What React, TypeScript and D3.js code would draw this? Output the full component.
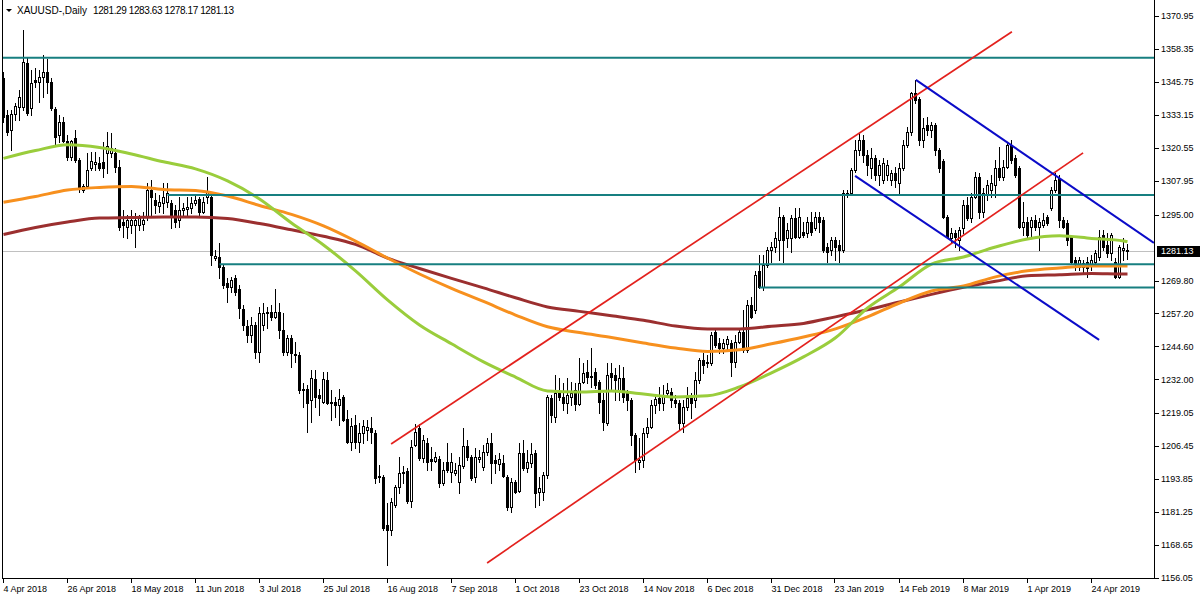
import * as d3 from "d3";

// date labels on the time axis, one every 16 bars
const dateLabels = [
  "4 Apr 2018", "26 Apr 2018", "18 May 2018", "11 Jun 2018", "3 Jul 2018", "25 Jul 2018",
  "16 Aug 2018", "7 Sep 2018", "1 Oct 2018", "23 Oct 2018", "14 Nov 2018", "6 Dec 2018",
  "31 Dec 2018", "23 Jan 2019", "14 Feb 2019", "8 Mar 2019", "1 Apr 2019", "24 Apr 2019",
];
const barsPerLabel = 16;

// price scale labels (the one at 1282.40 sits under the bid box, so it is left out)
const priceLabels = [
  1370.95, 1358.35, 1345.75, 1333.15, 1320.55, 1307.95, 1295.0, 1269.8,
  1257.2, 1244.6, 1232.0, 1219.05, 1206.45, 1193.85, 1181.25, 1168.65, 1156.05,
];

const symbol = "XAUUSD-,Daily";
const lastBar = [1281.29, 1283.63, 1278.17, 1281.13];

// daily OHLC
const opens = [
  1347.3, 1333.1, 1327.4, 1333.5, 1336.2, 1336.2, 1353.0, 1335.8, 1346.5, 1345.7,
  1347.7, 1349.6, 1345.7, 1335.4, 1325.5, 1330.4, 1323.2, 1317.1, 1324.3, 1315.9,
  1304.4, 1306.0, 1312.9, 1314.4, 1314.8, 1315.2, 1318.6, 1318.6, 1318.6, 1313.2,
  1292.2, 1290.3, 1291.1, 1291.1, 1291.1, 1291.4, 1294.1, 1304.4, 1300.6, 1298.3,
  1299.5, 1299.9, 1299.5, 1296.8, 1293.0, 1296.8, 1297.2, 1297.6, 1299.5, 1301.0,
  1296.0, 1301.8, 1301.8, 1278.4, 1278.8, 1275.0, 1268.9, 1267.4, 1270.8, 1266.6,
  1258.9, 1252.4, 1249.0, 1252.8, 1242.5, 1252.8, 1257.4, 1257.8, 1255.9, 1257.8,
  1250.9, 1242.5, 1247.9, 1241.7, 1241.4, 1228.3, 1228.3, 1224.1, 1232.2, 1226.1,
  1223.4, 1231.8, 1223.4, 1223.4, 1222.2, 1225.3, 1216.9, 1208.1, 1214.6, 1208.1,
  1211.5, 1212.7, 1213.4, 1211.5, 1195.1, 1194.7, 1176.3, 1174.4, 1184.0, 1190.9,
  1196.2, 1197.0, 1185.5, 1206.9, 1213.4, 1201.9, 1207.7, 1201.6, 1200.8, 1201.6,
  1192.4, 1200.4, 1196.6, 1196.2, 1192.8, 1198.9, 1206.5, 1202.3, 1194.7, 1201.6,
  1198.5, 1204.3, 1207.7, 1201.2, 1199.7, 1200.0, 1194.7, 1183.2, 1192.8, 1189.4,
  1203.9, 1198.1, 1200.0, 1203.9, 1189.0, 1189.0, 1195.5, 1224.9, 1217.6, 1226.8,
  1225.3, 1223.0, 1225.3, 1228.0, 1222.6, 1231.0, 1234.9, 1232.9, 1234.9, 1231.0,
  1224.1, 1215.3, 1234.5, 1233.7, 1228.0, 1232.6, 1226.8, 1224.1, 1210.7, 1200.4,
  1201.2, 1211.5, 1213.8, 1222.2, 1224.9, 1223.0, 1226.8, 1227.2, 1224.1, 1223.0,
  1215.3, 1221.5, 1224.9, 1224.1, 1231.8, 1239.4, 1238.7, 1238.3, 1250.1, 1246.0,
  1244.0, 1245.6, 1246.0, 1238.7, 1246.3, 1250.1, 1243.3, 1260.5, 1258.6, 1273.5,
  1267.4, 1275.8, 1281.5, 1282.6, 1285.3, 1294.1, 1286.1, 1286.1, 1293.7, 1286.5,
  1288.4, 1288.0, 1292.2, 1289.9, 1294.1, 1293.0, 1282.6, 1281.5, 1285.3, 1283.4,
  1281.5, 1302.5, 1303.3, 1312.1, 1319.7, 1323.6, 1317.8, 1312.9, 1316.7, 1310.2,
  1308.3, 1310.2, 1308.3, 1310.9, 1307.1, 1312.9, 1321.7, 1326.6, 1341.5, 1339.2,
  1323.6, 1329.3, 1327.4, 1329.3, 1319.7, 1315.6, 1294.1, 1286.1, 1288.0, 1285.3,
  1289.9, 1298.7, 1293.7, 1301.8, 1309.4, 1296.0, 1302.5, 1304.4, 1306.3, 1312.9,
  1309.4, 1313.2, 1321.7, 1316.7, 1312.9, 1290.3, 1292.2, 1290.3, 1293.0, 1290.3,
  1291.1, 1294.1, 1297.6, 1304.4, 1309.0, 1293.0, 1291.8, 1286.5, 1277.7, 1275.0,
  1275.0, 1276.9, 1275.8, 1276.9, 1278.8, 1287.2, 1283.4, 1280.3, 1276.9, 1271.2,
  1281.5, 1281.29,
];
const highs = [
  1349.6, 1335.0, 1335.0, 1337.7, 1342.7, 1365.6, 1354.9, 1350.3, 1351.1, 1350.3,
  1356.1, 1354.5, 1347.3, 1336.2, 1333.1, 1332.4, 1325.5, 1323.6, 1327.4, 1316.7,
  1306.7, 1318.6, 1319.0, 1319.0, 1317.1, 1322.8, 1326.6, 1326.2, 1320.5, 1315.9,
  1296.8, 1294.9, 1296.8, 1295.7, 1294.9, 1296.0, 1307.1, 1308.3, 1303.3, 1302.5,
  1307.1, 1307.1, 1300.6, 1298.7, 1301.8, 1299.5, 1301.8, 1301.8, 1302.5, 1301.8,
  1301.8, 1309.4, 1302.5, 1281.5, 1284.2, 1275.8, 1270.8, 1271.2, 1271.9, 1268.1,
  1260.5, 1254.7, 1255.9, 1254.0, 1259.7, 1261.2, 1259.7, 1260.5, 1266.6, 1261.2,
  1257.4, 1249.0, 1249.0, 1246.3, 1242.5, 1230.6, 1229.9, 1235.6, 1235.6, 1228.3,
  1234.9, 1234.9, 1228.0, 1225.3, 1228.3, 1226.1, 1220.3, 1217.3, 1218.4, 1215.3,
  1216.5, 1216.5, 1217.6, 1212.7, 1199.3, 1195.5, 1184.8, 1186.7, 1191.6, 1202.3,
  1198.9, 1198.1, 1208.8, 1214.9, 1214.9, 1210.7, 1209.6, 1206.2, 1204.3, 1202.7,
  1200.4, 1207.7, 1203.9, 1200.0, 1202.3, 1213.4, 1208.8, 1203.1, 1205.8, 1205.0,
  1206.9, 1209.6, 1211.5, 1203.1, 1203.9, 1203.1, 1195.5, 1194.3, 1193.6, 1207.7,
  1208.8, 1205.0, 1207.7, 1205.0, 1194.7, 1196.6, 1226.1, 1226.1, 1233.7, 1232.6,
  1230.6, 1232.6, 1231.0, 1230.6, 1240.2, 1238.3, 1239.4, 1244.0, 1236.4, 1231.8,
  1226.8, 1238.3, 1238.3, 1236.4, 1237.5, 1236.8, 1228.0, 1224.9, 1211.5, 1209.6,
  1213.4, 1217.3, 1224.1, 1226.1, 1229.1, 1229.9, 1230.6, 1228.7, 1226.1, 1224.1,
  1224.1, 1229.1, 1226.8, 1234.9, 1240.2, 1242.1, 1241.4, 1250.1, 1251.7, 1247.9,
  1247.5, 1248.6, 1247.1, 1249.0, 1251.7, 1258.6, 1262.4, 1263.5, 1273.5, 1279.6,
  1279.6, 1282.6, 1284.6, 1288.4, 1297.9, 1294.9, 1291.8, 1294.9, 1297.6, 1297.6,
  1292.2, 1294.1, 1296.0, 1296.0, 1296.0, 1294.1, 1284.2, 1286.5, 1286.5, 1285.3,
  1304.4, 1304.4, 1312.9, 1323.6, 1326.2, 1325.5, 1319.7, 1320.5, 1317.8, 1315.9,
  1316.7, 1315.9, 1312.1, 1313.2, 1314.8, 1323.6, 1328.5, 1341.9, 1346.5, 1340.0,
  1331.8, 1332.4, 1330.4, 1330.1, 1320.5, 1316.4, 1294.9, 1289.9, 1289.2, 1290.3,
  1300.6, 1301.8, 1303.3, 1311.3, 1310.9, 1305.2, 1308.3, 1310.2, 1315.9, 1320.9,
  1315.9, 1322.8, 1323.6, 1317.8, 1313.6, 1299.9, 1294.1, 1294.1, 1294.9, 1293.7,
  1295.7, 1294.9, 1305.6, 1310.9, 1310.2, 1294.1, 1293.0, 1287.2, 1278.8, 1278.8,
  1277.7, 1278.8, 1279.6, 1281.5, 1289.2, 1289.2, 1288.0, 1288.0, 1278.4, 1283.4,
  1286.1, 1283.63,
];
const lows = [
  1330.4, 1325.5, 1319.7, 1331.2, 1331.2, 1335.0, 1333.1, 1333.1, 1343.8, 1338.1,
  1340.0, 1341.5, 1335.0, 1321.7, 1322.8, 1322.8, 1315.9, 1315.9, 1315.2, 1303.7,
  1303.7, 1305.2, 1312.1, 1312.1, 1312.1, 1309.4, 1310.9, 1317.1, 1311.3, 1289.2,
  1286.5, 1286.1, 1288.0, 1282.6, 1289.2, 1289.2, 1293.0, 1294.1, 1295.7, 1296.0,
  1295.7, 1297.9, 1289.9, 1290.3, 1290.3, 1294.9, 1294.1, 1295.7, 1298.7, 1294.1,
  1295.7, 1299.5, 1275.8, 1277.7, 1270.8, 1266.9, 1261.6, 1265.4, 1264.3, 1255.5,
  1250.9, 1246.3, 1246.3, 1240.2, 1238.7, 1250.9, 1251.7, 1254.7, 1255.5, 1247.9,
  1241.4, 1241.4, 1236.8, 1238.7, 1226.8, 1221.5, 1211.9, 1215.7, 1221.5, 1218.4,
  1223.0, 1222.6, 1216.5, 1217.6, 1214.6, 1216.0, 1207.7, 1205.0, 1205.8, 1204.3,
  1207.7, 1208.8, 1207.7, 1192.4, 1192.8, 1174.4, 1161.0, 1172.5, 1183.2, 1188.6,
  1192.4, 1184.8, 1183.2, 1206.5, 1201.2, 1200.4, 1197.4, 1197.4, 1200.4, 1190.9,
  1191.6, 1196.6, 1192.8, 1195.5, 1188.6, 1198.1, 1201.2, 1193.6, 1192.8, 1200.4,
  1197.4, 1203.1, 1192.4, 1196.2, 1197.4, 1194.7, 1182.1, 1181.3, 1188.6, 1189.0,
  1197.4, 1196.6, 1198.5, 1183.2, 1184.0, 1185.9, 1194.3, 1215.7, 1215.7, 1224.1,
  1220.3, 1219.2, 1222.2, 1220.3, 1222.2, 1230.6, 1230.6, 1229.1, 1228.7, 1219.2,
  1212.7, 1214.6, 1228.0, 1224.1, 1224.1, 1223.4, 1220.3, 1206.9, 1196.6, 1197.9,
  1198.5, 1210.0, 1213.4, 1219.2, 1220.3, 1220.3, 1226.1, 1221.5, 1221.5, 1212.7,
  1211.9, 1220.3, 1217.3, 1221.5, 1230.6, 1234.5, 1236.8, 1237.5, 1244.4, 1242.1,
  1242.1, 1243.3, 1233.3, 1236.8, 1246.0, 1242.5, 1242.5, 1255.5, 1257.4, 1267.0,
  1266.2, 1275.0, 1276.9, 1280.7, 1277.7, 1276.9, 1282.6, 1280.7, 1286.1, 1286.1,
  1286.5, 1286.5, 1287.2, 1289.2, 1288.4, 1280.7, 1276.9, 1279.6, 1277.7, 1276.9,
  1280.7, 1301.8, 1302.5, 1311.3, 1317.9, 1315.2, 1310.2, 1309.0, 1308.3, 1306.3,
  1307.1, 1308.3, 1306.3, 1305.6, 1303.3, 1312.1, 1320.9, 1325.5, 1337.7, 1321.7,
  1320.9, 1325.5, 1324.7, 1317.8, 1311.3, 1293.7, 1286.1, 1284.2, 1282.6, 1281.5,
  1288.0, 1293.0, 1292.2, 1301.4, 1293.7, 1294.1, 1300.6, 1301.8, 1301.8, 1308.3,
  1308.3, 1312.9, 1314.8, 1309.4, 1289.9, 1287.2, 1286.5, 1286.5, 1289.2, 1281.5,
  1290.3, 1291.1, 1296.8, 1303.7, 1290.3, 1289.9, 1283.4, 1276.5, 1273.9, 1273.9,
  1273.1, 1271.2, 1273.9, 1275.8, 1277.7, 1281.5, 1278.8, 1277.7, 1270.8, 1270.8,
  1277.7, 1278.17,
];
const closes = [
  1332.4, 1326.6, 1333.5, 1336.6, 1340.0, 1353.4, 1333.9, 1345.4, 1345.7, 1347.7,
  1349.6, 1345.7, 1335.8, 1324.7, 1330.4, 1323.2, 1317.1, 1323.2, 1315.9, 1305.6,
  1306.0, 1312.1, 1315.5, 1315.2, 1312.9, 1312.9, 1321.3, 1320.5, 1313.2, 1290.3,
  1291.1, 1293.0, 1293.0, 1293.0, 1293.7, 1293.0, 1304.4, 1301.8, 1298.7, 1299.9,
  1301.8, 1303.3, 1294.1, 1292.2, 1296.8, 1297.6, 1297.9, 1299.5, 1300.6, 1296.0,
  1299.9, 1303.7, 1279.6, 1279.2, 1275.0, 1268.1, 1267.4, 1270.0, 1265.4, 1259.3,
  1252.8, 1249.0, 1252.8, 1242.5, 1257.4, 1257.4, 1257.8, 1255.9, 1257.8, 1250.9,
  1242.5, 1247.9, 1242.1, 1241.4, 1228.0, 1228.0, 1223.0, 1232.6, 1225.3, 1224.9,
  1232.2, 1223.0, 1223.0, 1222.2, 1224.5, 1216.5, 1208.1, 1214.2, 1208.1, 1211.5,
  1214.2, 1213.8, 1211.9, 1194.3, 1194.7, 1175.2, 1174.4, 1185.1, 1190.9, 1196.2,
  1196.6, 1185.5, 1206.2, 1211.9, 1201.9, 1208.8, 1200.4, 1200.8, 1202.3, 1192.4,
  1197.4, 1197.4, 1200.4, 1197.4, 1199.3, 1206.5, 1202.3, 1194.3, 1202.3, 1202.3,
  1204.3, 1207.7, 1200.0, 1200.0, 1201.6, 1195.1, 1183.2, 1192.8, 1189.0, 1203.9,
  1198.1, 1200.4, 1203.5, 1188.6, 1190.5, 1195.5, 1225.3, 1218.4, 1226.8, 1225.3,
  1223.0, 1226.1, 1226.8, 1222.6, 1230.6, 1234.5, 1233.0, 1233.3, 1229.9, 1223.4,
  1215.7, 1233.7, 1233.0, 1231.8, 1232.6, 1225.3, 1224.1, 1210.7, 1201.2, 1201.2,
  1211.5, 1213.8, 1222.2, 1224.5, 1223.0, 1226.1, 1228.0, 1224.1, 1223.0, 1215.3,
  1221.5, 1224.9, 1223.0, 1231.8, 1239.4, 1237.5, 1238.3, 1249.0, 1245.2, 1244.0,
  1246.0, 1247.5, 1238.7, 1246.3, 1250.1, 1243.3, 1260.5, 1255.9, 1272.0, 1267.4,
  1275.8, 1281.5, 1282.6, 1286.1, 1294.1, 1285.3, 1289.2, 1293.7, 1286.5, 1294.1,
  1287.2, 1292.2, 1288.4, 1294.1, 1292.2, 1281.5, 1280.7, 1285.3, 1282.6, 1281.5,
  1303.3, 1303.3, 1312.1, 1319.7, 1323.6, 1317.8, 1314.0, 1316.7, 1310.2, 1314.0,
  1314.8, 1314.0, 1310.9, 1308.3, 1312.9, 1321.7, 1326.6, 1341.5, 1338.9, 1323.6,
  1328.1, 1327.4, 1329.3, 1319.7, 1312.9, 1294.1, 1286.5, 1288.0, 1286.5, 1289.2,
  1298.7, 1293.7, 1301.8, 1309.4, 1296.0, 1303.3, 1306.3, 1307.1, 1312.9, 1309.4,
  1313.2, 1321.7, 1315.9, 1310.2, 1290.3, 1292.2, 1287.2, 1293.0, 1290.3, 1292.2,
  1293.0, 1291.8, 1304.4, 1308.3, 1293.0, 1290.3, 1285.3, 1276.9, 1276.5, 1277.7,
  1276.5, 1274.6, 1277.7, 1280.3, 1286.5, 1282.6, 1280.3, 1287.2, 1271.2, 1282.6,
  1282.3, 1281.13,
];

// moving averages, sampled every 8 bars from the picture
const maBars = [
  0, 8, 16, 24, 32, 40, 48, 56, 64, 72, 80, 88, 96, 104, 112, 120, 128, 136, 144,
  152, 160, 168, 176, 184, 192, 200, 208, 216, 224, 232, 240, 248, 256, 264, 272, 280, 281,
];
const maGreen = [
  1316.5, 1319.5, 1321.7, 1320.7, 1318.2, 1315.2, 1312.5, 1307.9, 1301.0, 1291.8,
  1283.4, 1273.5, 1262.4, 1252.8, 1245.6, 1238.7, 1232.9, 1227.6, 1227.2, 1227.6,
  1226.4, 1225.3, 1225.7, 1229.1, 1234.5, 1240.6, 1247.9, 1259.3, 1267.4, 1276.1,
  1278.8, 1282.6, 1285.7, 1286.9, 1285.9, 1284.9, 1284.6,
];
const maOrange = [
  1299.7, 1301.9, 1304.4, 1305.4, 1305.8, 1304.6, 1304.2, 1302.1, 1298.5, 1295.1,
  1290.7, 1284.9, 1278.4, 1272.3, 1266.8, 1261.8, 1256.6, 1252.1, 1249.9, 1248.0,
  1245.9, 1244.0, 1242.7, 1243.3, 1245.6, 1248.2, 1251.3, 1255.9, 1261.2, 1265.8,
  1267.7, 1271.2, 1273.5, 1274.6, 1275.4, 1275.4, 1275.4,
];
const maBrown = [
  1287.4, 1290.1, 1292.2, 1293.7, 1293.9, 1294.1, 1294.1, 1293.5, 1291.6, 1289.2,
  1286.7, 1283.6, 1278.4, 1274.4, 1270.6, 1267.0, 1263.2, 1259.7, 1258.0, 1256.3,
  1254.6, 1252.4, 1251.3, 1251.3, 1252.3, 1253.4, 1255.9, 1258.6, 1261.6, 1264.5,
  1267.2, 1269.5, 1271.6, 1272.0, 1272.5, 1272.3, 1272.3,
];

// horizontal levels: price and first bar
const levelPrices = [1355.0, 1302.5, 1276.0, 1267.1];
const levelFrom = [-1, 41, 54, 189];

// trend lines: [bar1, price1, bar2, price2]
const redLines = [
  [96.9, 1207.3, 252.1, 1364.9],
  [120.9, 1161.8, 269.9, 1318.6],
];
const blueLines = [
  [228.1, 1346.5, 287.6, 1284.2],
  [212.9, 1309.8, 273.9, 1247.1],
];

const W = 1200;
const H = 600;
const left = 2;
const right = 1154;
const bottom = 578;

export default function App() {
  const x = d3.scaleLinear().domain([0, 281]).range([3.5, 1127.5]);
  const y = d3.scaleLinear().domain([1156.05, 1370.95]).range([578, 16]);

  const maLine = (vals: number[]) =>
    d3
      .line<number>()
      .x((_, k) => x(maBars[k]))
      .y((v) => y(v))
      .curve(d3.curveMonotoneX)(vals) || "";

  const bid = lastBar[3];

  return (
    <svg
      width={W}
      height={H}
      style={{ position: "absolute", left: 0, top: 0, background: "#fff" }}
      fontFamily="'Liberation Sans', Arial, sans-serif"
    >
      <rect width={W} height={H} fill="#fff" />
      <defs>
        <clipPath id="plot">
          <rect x={left} y={0} width={right - left} height={bottom} />
        </clipPath>
      </defs>

      <g clipPath="url(#plot)">
        {/* bid line */}
        <line x1={left} x2={right} y1={Math.round(y(bid)) + 0.5} y2={Math.round(y(bid)) + 0.5} stroke="#c0c0c0" />

        {/* candles */}
        <g shapeRendering="crispEdges">
          {opens.map((o, i) => {
            const c = closes[i];
            const hi = Math.max(highs[i], o, c);
            const lo = Math.min(lows[i], o, c);
            const cx = x(i);
            const yo = Math.round(y(o));
            const yc = Math.round(y(c));
            const up = c >= o;
            return (
              <g key={i}>
                <line x1={cx} x2={cx} y1={Math.round(y(hi))} y2={Math.round(y(lo)) + 1} stroke="#000" />
                {up ? (
                  <rect x={cx - 1} y={yc + 0.5} width={2} height={Math.max(yo - yc, 1)} fill="#fff" stroke="#000" />
                ) : (
                  <rect x={cx - 1.5} y={yo} width={3} height={Math.max(yc - yo, 1) + 1} fill="#000" />
                )}
              </g>
            );
          })}
        </g>

        {/* moving averages */}
        <path d={maLine(maBrown)} fill="none" stroke="#9b2f2f" strokeWidth={3} />
        <path d={maLine(maOrange)} fill="none" stroke="#f7901e" strokeWidth={3} />
        <path d={maLine(maGreen)} fill="none" stroke="#9acd3c" strokeWidth={3} />

        {/* horizontal levels */}
        {levelPrices.map((p, k) => (
          <line
            key={k}
            x1={Math.max(left, x(levelFrom[k]))}
            x2={right}
            y1={y(p)}
            y2={y(p)}
            stroke="#177f80"
            strokeWidth={2}
          />
        ))}

        {/* trend lines */}
        {redLines.map((l, k) => (
          <line key={"r" + k} x1={x(l[0])} y1={y(l[1])} x2={x(l[2])} y2={y(l[3])} stroke="#e3211d" strokeWidth={1.7} />
        ))}
        {blueLines.map((l, k) => (
          <line key={"b" + k} x1={x(l[0])} y1={y(l[1])} x2={x(l[2])} y2={y(l[3])} stroke="#0b0bc8" strokeWidth={2} />
        ))}
      </g>

      {/* frame */}
      <g shapeRendering="crispEdges" stroke="#000" fill="none">
        <line x1={left + 0.5} x2={left + 0.5} y1={0} y2={bottom + 1} />
        <line x1={right + 0.5} x2={right + 0.5} y1={0} y2={bottom + 1} />
        <line x1={left} x2={right + 1} y1={bottom + 0.5} y2={bottom + 0.5} />
      </g>

      {/* price axis */}
      <g fontSize={9} fill="#000">
        {priceLabels.map((p) => (
          <g key={p}>
            <line x1={right + 1} x2={right + 5} y1={Math.round(y(p)) + 0.5} y2={Math.round(y(p)) + 0.5} stroke="#000" shapeRendering="crispEdges" />
            <text x={1161} y={y(p)} dy="0.35em">
              {p.toFixed(2)}
            </text>
          </g>
        ))}
        <rect x={1157} y={Math.round(y(bid)) - 5} width={43} height={11} fill="#000" />
        <text x={1161} y={y(bid)} dy="0.35em" fill="#fff">
          {bid.toFixed(2)}
        </text>
      </g>

      {/* time axis */}
      <g fontSize={9} fill="#000">
        {dateLabels.map((d, k) => {
          const tx = Math.round(x(k * barsPerLabel)) - 0.5;
          return (
            <g key={d}>
              <line x1={tx} x2={tx} y1={bottom + 1} y2={bottom + 5} stroke="#000" shapeRendering="crispEdges" />
              <text x={tx} y={592}>
                {d}
              </text>
            </g>
          );
        })}
      </g>

      {/* header */}
      <path d="M6,9 L12,9 L9,12 Z" fill="#000" />
      <text x={17} y={14} fontSize={10} fill="#000">
        {symbol}
        <tspan dx={6} letterSpacing={-0.4}>
          {lastBar.map((v) => v.toFixed(2)).join(" ")}
        </tspan>
      </text>
    </svg>
  );
}
